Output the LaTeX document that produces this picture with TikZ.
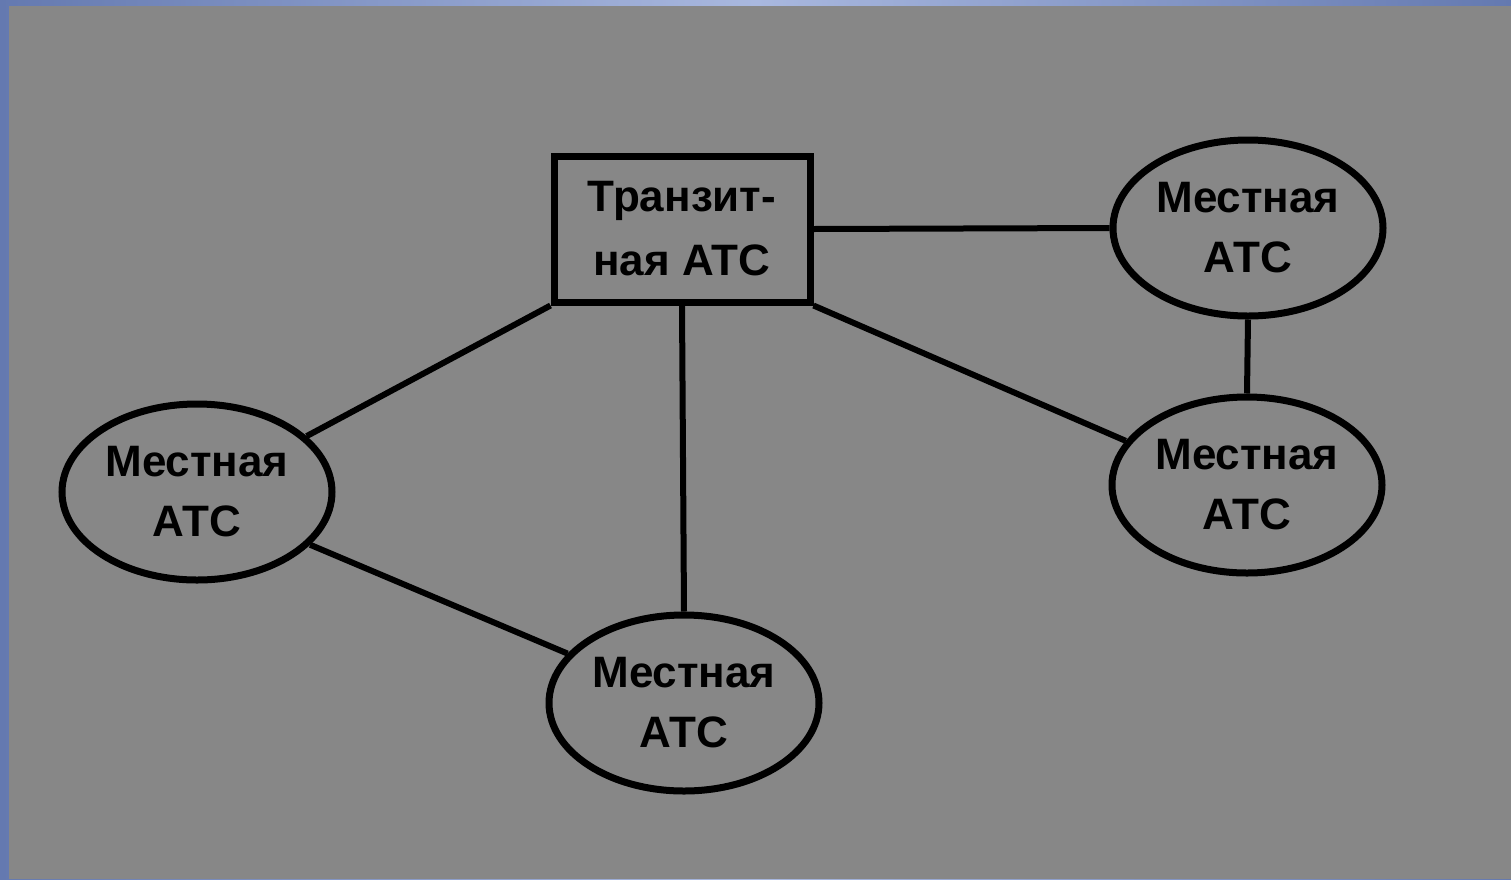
\documentclass[tikz,border=0pt]{standalone}
\usepackage{fontspec}
\setmainfont{Liberation Sans}
\usetikzlibrary{shapes.geometric}
\definecolor{bg}{HTML}{878787}
\definecolor{frameblue}{HTML}{6479B0}
\definecolor{framelight}{HTML}{A9B8DF}
\begin{document}
\begin{tikzpicture}[x=0.5pt,y=-0.5pt,
  atc/.style={ellipse,draw=black,line width=3.5pt,minimum width=135pt,minimum height=88pt,inner sep=0pt,
    font=\fontsize{22}{30}\selectfont\bfseries,align=center},
  tbox/.style={rectangle,draw=black,line width=3.5pt,minimum width=128pt,minimum height=73pt,inner sep=0pt,
    font=\fontsize{22}{32}\selectfont\bfseries,align=center},
  link/.style={line width=3pt,black}]
\useasboundingbox (0,0) rectangle (1511,879);
\shade[left color=frameblue,right color=frameblue,middle color=framelight] (0,0) rectangle (1511,879);
\fill[bg] (9,6) rectangle (1511,879);
\node[tbox] (T) at (682,229) {Транзит-\\ная АТС};
\node[atc] (TR) at (1248,228) {Местная\\АТС};
\node[atc] (MR) at (1247,485) {Местная\\АТС};
\node[atc] (L) at (197,492) {Местная\\АТС};
\node[atc] (B) at (684,703) {Местная\\АТС};
\draw[link] (T.east) -- (TR.west);
\draw[link] (T.south east) -- (MR.160);
\draw[link] (T.south) -- (B.north);
\draw[link] (T.south west) -- (L.27);
\draw[link] (L.-25) -- (B.157);
\draw[link] (TR.south) -- (MR.north);
\end{tikzpicture}
\end{document}
